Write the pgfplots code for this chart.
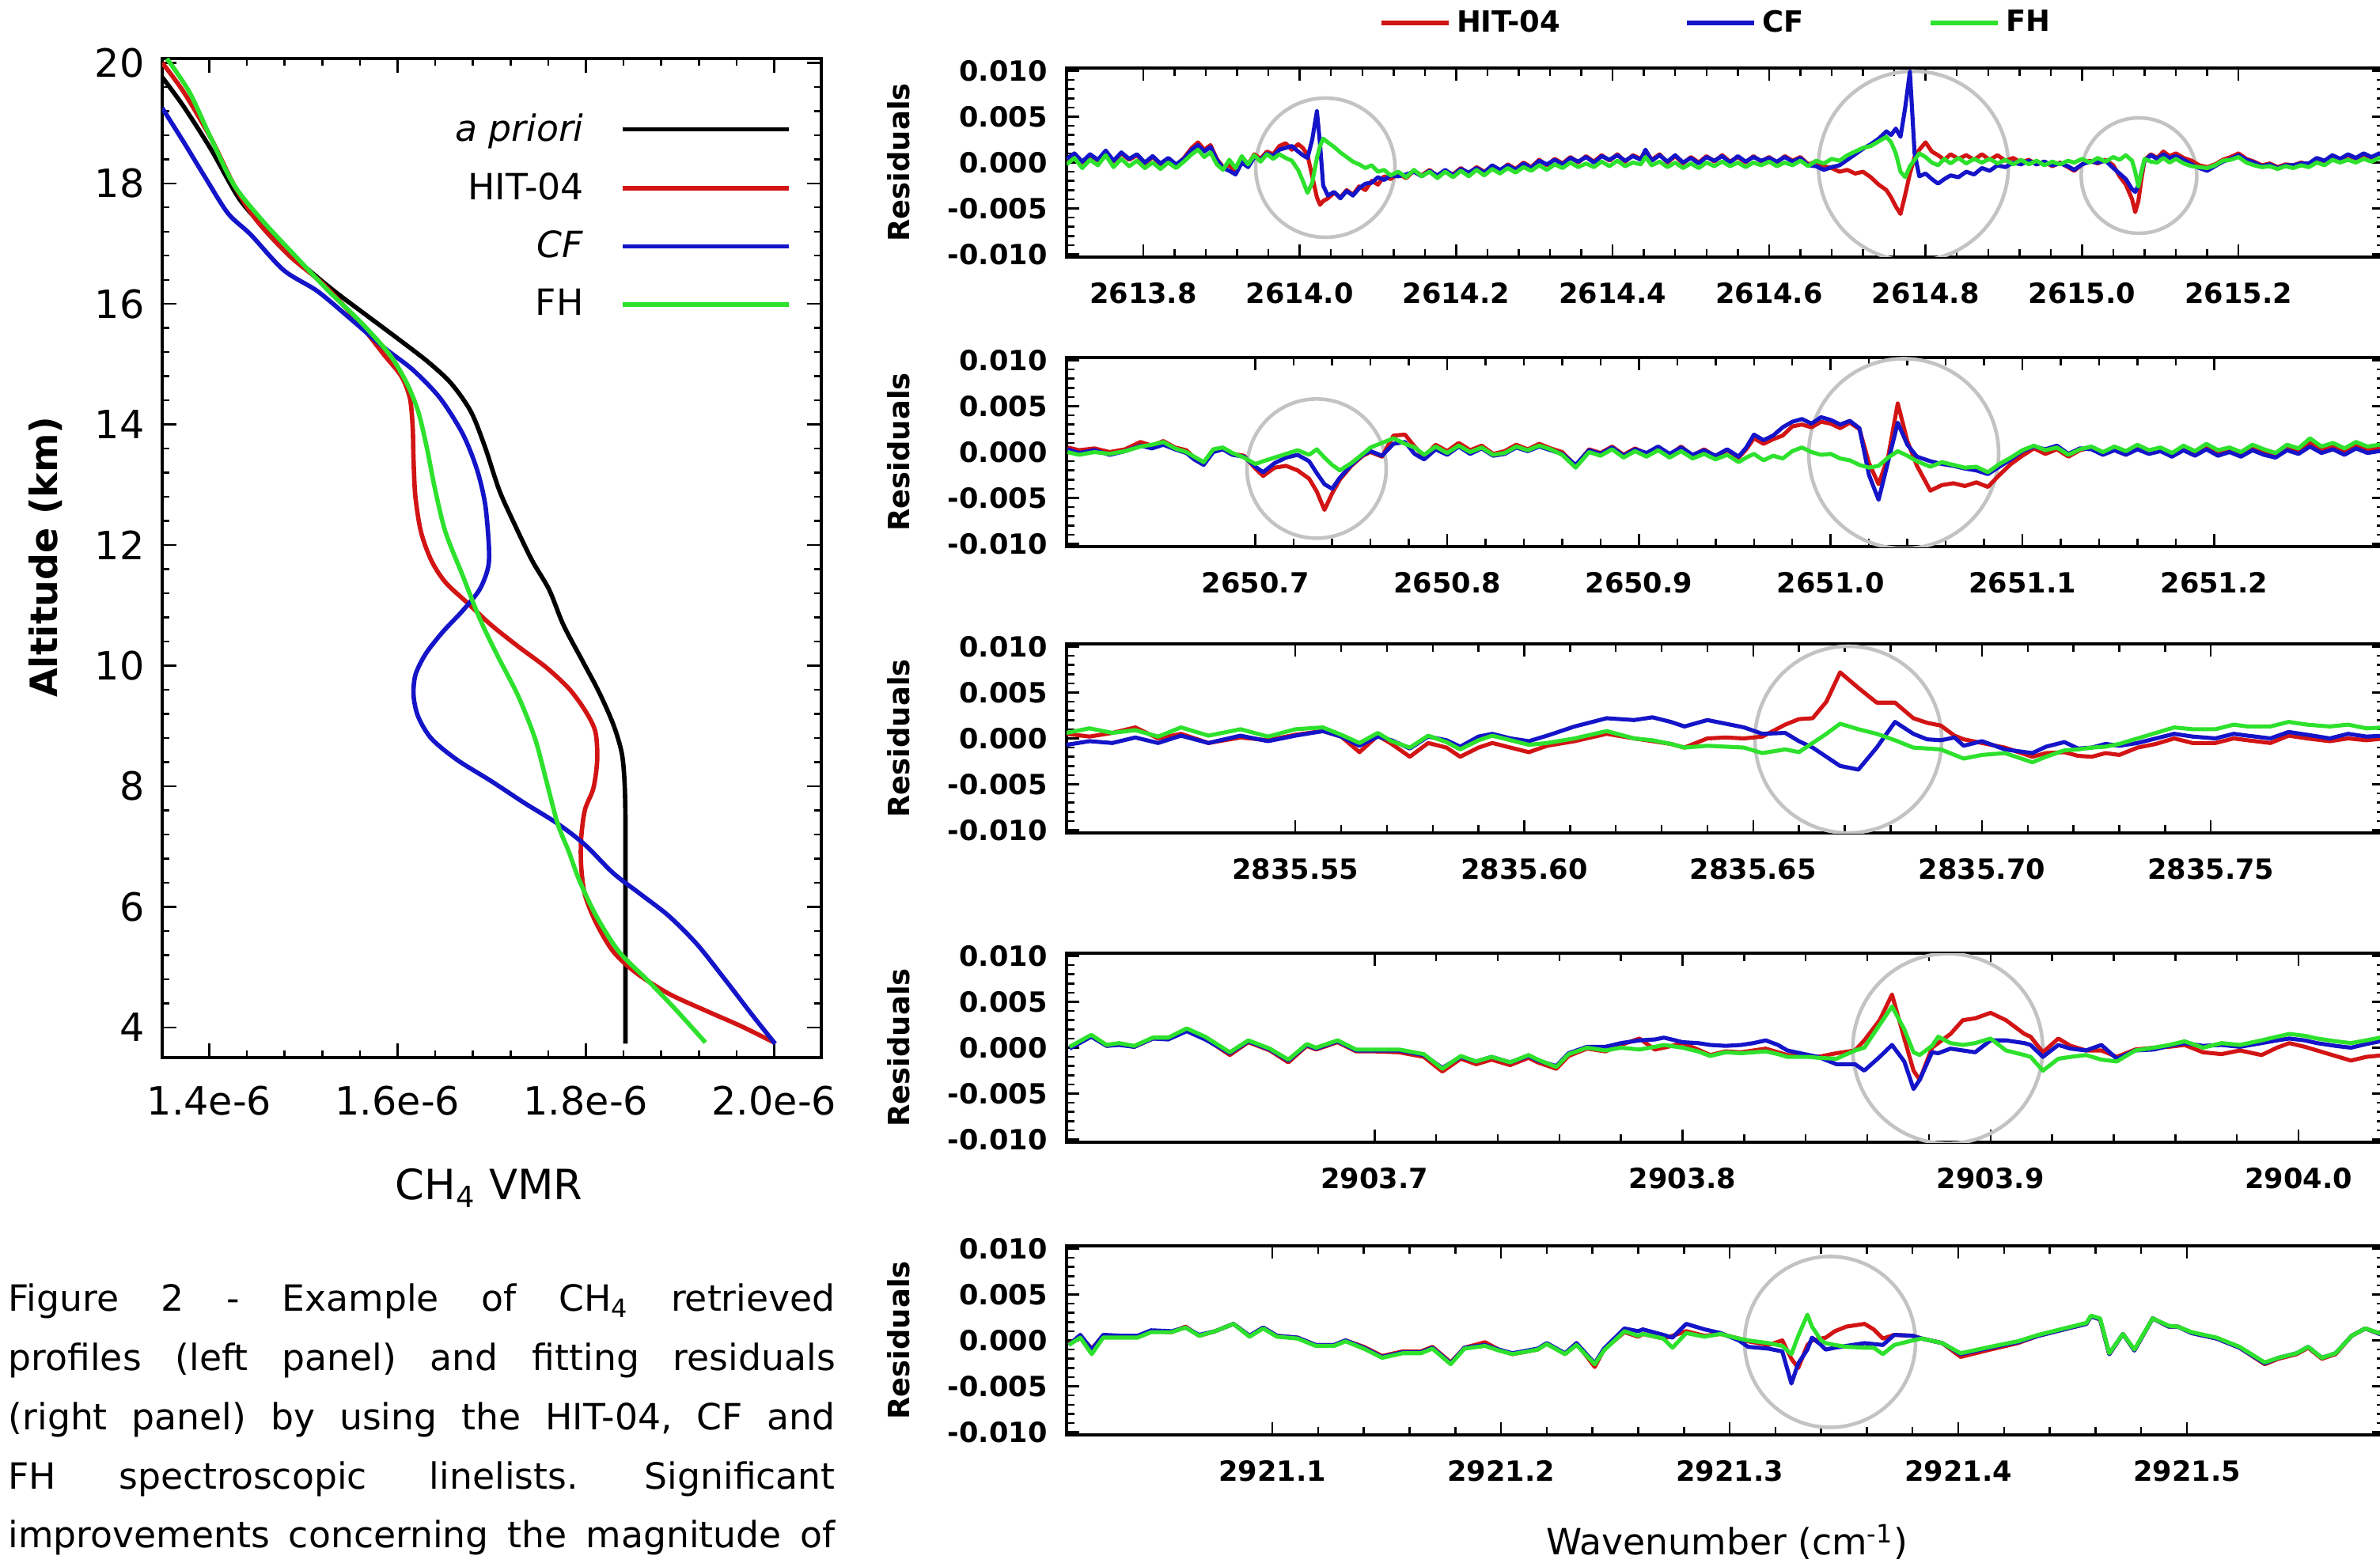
\documentclass[border=0pt]{standalone}
\usepackage{fontspec}
\setmainfont{DejaVu Sans}
\usepackage{pgfplots}
\usepackage{pgfplotstable}
\pgfplotsset{compat=1.18}
\definecolor{cR}{RGB}{210,20,20}
\definecolor{cB}{RGB}{20,20,200}
\definecolor{cG}{RGB}{45,225,45}
\definecolor{cC}{RGB}{195,195,195}
\tikzset{circ/.style={cC, line width=1.3pt}, capline/.style={anchor=base west, inner sep=0pt, font=\fontsize{13}{15}\selectfont}}

\pgfplotstableread{
x h c f
0.702 0.3 0.4 -0.2
0.712 0.9 1.0 0.5
0.722 0.0 0.1 -0.6
0.732 0.8 0.9 0.3
0.742 0.2 0.3 -0.3
0.752 1.2 1.3 0.8
0.762 0.1 0.2 -0.5
0.772 1.0 1.1 0.4
0.782 0.3 0.4 -0.4
0.792 0.8 0.9 0.2
0.802 -0.1 0.0 -0.6
0.812 0.6 0.7 0.0
0.822 -0.2 -0.1 -0.7
0.832 0.4 0.5 0.0
0.842 -0.3 -0.2 -0.6
0.852 0.5 0.4 0.1
0.862 1.6 1.4 0.9
0.870 2.2 1.9 1.4
0.878 1.4 1.2 0.6
0.886 1.9 1.7 1.1
0.894 0.4 0.3 -0.2
0.902 -0.5 -0.6 -0.8
0.910 -0.3 -0.9 0.3
0.918 -1.0 -1.3 -0.6
0.926 0.2 0.0 0.7
0.934 -0.2 -0.5 -0.2
0.942 0.9 0.6 0.8
0.950 0.4 0.3 0.1
0.958 1.2 1.0 0.9
0.966 0.9 0.7 0.4
0.974 1.8 1.4 0.9
0.982 2.1 1.6 0.5
0.990 1.4 1.8 0.2
0.998 2.0 1.2 -0.8
1.004 1.6 0.8 -2.0
1.010 0.8 0.5 -3.3
1.016 -1.5 2.5 -2.2
1.022 -3.8 5.6 0.5
1.026 -4.6 2.0 1.8
1.030 -4.2 -2.5 2.6
1.036 -3.9 -3.6 2.2
1.044 -3.3 -3.2 1.7
1.052 -3.8 -3.9 1.1
1.060 -3.0 -3.1 0.6
1.068 -3.5 -3.6 0.1
1.076 -2.6 -2.8 -0.2
1.084 -3.0 -2.3 -0.6
1.092 -2.0 -2.2 -0.3
1.100 -2.4 -1.6 -1.0
1.108 -1.5 -1.9 -0.8
1.116 -1.8 -1.4 -1.4
1.126 -1.2 -1.5 -1.0
1.136 -1.7 -1.3 -1.6
1.146 -0.9 -1.0 -0.8
1.156 -1.4 -1.5 -1.5
1.166 -0.8 -0.9 -1.0
1.176 -1.5 -1.4 -1.7
1.186 -0.9 -0.8 -1.0
1.196 -1.3 -1.4 -1.6
1.206 -0.6 -0.7 -0.9
1.216 -1.2 -1.1 -1.5
1.226 -0.5 -0.6 -0.8
1.236 -1.0 -1.1 -1.4
1.246 -0.4 -0.3 -0.7
1.256 -0.9 -0.8 -1.2
1.266 -0.2 -0.3 -0.6
1.276 -0.7 -0.8 -1.1
1.286 0.0 -0.1 -0.5
1.296 -0.5 -0.6 -0.9
1.306 0.3 0.2 -0.3
1.316 -0.3 -0.2 -0.8
1.326 0.4 0.3 -0.2
1.336 -0.1 -0.2 -0.6
1.346 0.6 0.5 0.0
1.356 0.0 0.1 -0.5
1.366 0.7 0.6 -0.1
1.376 0.1 0.0 -0.5
1.386 0.8 0.7 0.1
1.396 0.2 0.3 -0.4
1.406 0.9 0.8 0.2
1.416 0.1 0.2 -0.4
1.426 0.8 0.7 0.0
1.436 0.4 0.3 -0.2
1.442 1.3 1.4 0.6
1.450 0.3 0.2 -0.3
1.460 0.9 0.8 0.1
1.470 0.0 0.1 -0.5
1.480 0.7 0.8 0.0
1.490 -0.1 0.0 -0.6
1.500 0.6 0.5 -0.1
1.510 0.0 -0.1 -0.6
1.520 0.7 0.6 0.0
1.530 0.1 0.2 -0.4
1.540 0.8 0.7 0.1
1.550 0.1 0.0 -0.4
1.560 0.6 0.7 0.0
1.570 0.0 0.1 -0.5
1.580 0.7 0.6 0.0
1.590 0.1 0.2 -0.3
1.600 0.6 0.5 0.1
1.610 0.0 0.1 -0.4
1.620 0.7 0.6 0.0
1.630 0.2 0.1 -0.3
1.640 0.6 0.5 0.2
1.650 -0.2 -0.3 -0.4
1.660 0.1 -0.4 0.2
1.670 -0.4 -0.8 -0.1
1.680 -0.6 -0.5 0.4
1.690 -1.0 -0.3 0.2
1.700 -0.8 0.3 0.8
1.710 -1.2 0.9 1.2
1.720 -1.0 1.5 1.6
1.730 -1.6 2.0 1.8
1.740 -2.4 2.6 2.3
1.750 -3.0 3.4 2.8
1.756 -3.8 3.0 2.2
1.762 -4.8 3.7 1.0
1.768 -5.6 2.8 -1.0
1.774 -3.5 6.0 -1.6
1.780 -1.2 9.9 -0.4
1.786 0.6 1.0 0.3
1.792 1.4 -1.5 1.0
1.800 2.2 -1.2 0.6
1.808 1.2 -1.8 0.0
1.816 0.8 -2.3 -0.3
1.824 0.3 -1.8 0.4
1.832 0.9 -1.4 -0.1
1.842 0.4 -1.6 0.5
1.852 0.8 -1.0 -0.1
1.862 0.3 -1.3 0.4
1.872 0.9 -0.6 0.0
1.882 0.3 -0.9 0.4
1.892 0.8 -0.3 -0.1
1.902 0.2 -0.5 0.3
1.912 0.5 0.0 -0.2
1.922 0.0 -0.2 0.3
1.932 0.3 0.2 -0.2
1.942 -0.2 -0.2 0.2
1.952 0.1 0.1 -0.3
1.962 -0.4 -0.3 0.1
1.972 0.0 -0.1 -0.2
1.982 -0.5 -0.4 0.2
1.990 -0.9 -0.8 0.0
2.000 -0.2 -0.2 0.4
2.010 0.2 0.1 0.0
2.020 -0.1 0.0 0.5
2.030 0.3 0.2 0.1
2.040 -0.3 -0.6 0.6
2.048 -1.5 -1.2 0.3
2.056 -2.4 -1.8 0.8
2.064 -4.0 -2.9 0.2
2.068 -5.4 -3.2 -1.0
2.072 -4.2 -2.5 -2.6
2.076 -1.8 -1.0 -1.0
2.080 0.3 0.2 0.4
2.088 0.9 0.8 0.1
2.096 0.5 0.4 0.0
2.104 1.2 0.9 0.5
2.112 0.7 0.5 0.0
2.120 1.0 0.7 0.4
2.130 0.5 0.3 -0.1
2.140 0.2 -0.2 -0.4
2.150 -0.3 -0.6 -0.5
2.160 -0.5 -0.9 -0.6
2.170 -0.2 -0.4 -0.3
2.180 0.3 0.1 0.2
2.190 0.6 0.4 0.3
2.200 1.0 0.8 0.6
2.210 0.4 0.3 0.0
2.220 0.1 0.0 -0.3
2.230 -0.3 -0.4 -0.5
2.240 -0.1 -0.2 -0.4
2.250 -0.5 -0.6 -0.7
2.260 -0.2 -0.3 -0.4
2.270 -0.3 -0.3 -0.6
2.280 0.0 -0.1 -0.3
2.290 -0.2 -0.1 -0.5
2.300 0.4 0.5 0.0
2.310 0.1 0.2 -0.3
2.320 0.7 0.8 0.3
2.330 0.3 0.4 0.0
2.340 0.8 0.9 0.3
2.350 0.4 0.5 0.0
2.360 0.9 1.0 0.4
2.370 0.5 0.6 0.1
2.380 1.0 1.0 0.5
2.387 0.6 0.7 0.2
}\tA

\pgfplotstableread{
x h c f
0.602 0.5 0.3 0.0
0.608 0.2 -0.1 -0.3
0.616 0.4 0.2 0.0
0.624 0.0 -0.3 -0.2
0.632 0.3 0.1 0.1
0.640 1.1 0.7 0.6
0.646 0.7 0.4 0.8
0.652 1.2 0.8 1.1
0.658 0.5 0.3 0.4
0.664 0.2 -0.1 0.0
0.668 -0.6 -0.8 -0.5
0.673 -1.3 -1.4 -1.1
0.678 0.1 0.0 0.3
0.683 0.4 0.3 0.5
0.688 -0.2 -0.3 -0.1
0.694 -0.4 -0.5 -0.6
0.700 -1.8 -1.6 -1.3
0.704 -2.6 -2.2 -1.0
0.710 -1.7 -1.2 -0.6
0.716 -1.5 -0.6 -0.2
0.722 -2.0 -0.3 0.2
0.728 -2.9 -1.0 -0.3
0.732 -4.3 -2.3 0.3
0.736 -6.3 -3.5 -0.6
0.740 -4.5 -4.0 -1.4
0.744 -3.0 -2.8 -2.0
0.750 -1.5 -1.4 -1.2
0.756 -0.4 -0.3 -0.2
0.760 0.0 0.1 0.5
0.766 -0.5 -0.4 1.0
0.772 1.8 0.9 1.5
0.778 1.9 1.1 0.9
0.783 0.6 -0.2 0.5
0.788 -0.5 -0.8 -0.3
0.794 0.8 0.3 0.6
0.800 0.1 -0.3 -0.1
0.806 1.0 0.6 0.7
0.812 0.2 -0.2 0.0
0.818 0.7 0.4 0.5
0.824 -0.2 -0.4 -0.3
0.830 0.1 -0.2 -0.1
0.836 0.8 0.5 0.6
0.842 0.3 0.1 0.2
0.848 0.9 0.6 0.7
0.854 0.4 0.2 0.3
0.860 0.0 -0.2 -0.3
0.867 -1.5 -1.4 -1.7
0.874 0.3 0.2 0.0
0.880 -0.1 -0.2 -0.4
0.886 0.6 0.5 0.3
0.892 -0.3 -0.4 -0.6
0.898 0.4 0.3 0.1
0.904 -0.2 -0.1 -0.5
0.910 0.5 0.6 0.2
0.916 -0.3 -0.2 -0.6
0.922 0.6 0.5 0.1
0.928 -0.4 -0.3 -0.7
0.934 0.3 0.2 -0.2
0.940 -0.5 -0.4 -0.8
0.946 0.2 0.3 -0.3
0.952 -0.6 -0.5 -1.1
0.956 0.3 0.5 -0.6
0.960 1.5 1.9 -0.2
0.965 0.9 1.3 -0.9
0.970 1.4 1.8 -0.4
0.975 1.8 2.7 -0.7
0.980 2.8 3.3 0.1
0.985 3.0 3.6 0.5
0.990 2.7 3.1 0.0
0.995 3.3 3.8 -0.3
1.000 3.1 3.5 -0.2
1.005 2.6 3.0 -0.7
1.010 3.2 3.4 -0.9
1.015 2.5 2.6 -1.4
1.020 -1.2 -2.5 -1.7
1.025 -3.5 -5.2 -1.5
1.030 -0.5 -1.0 -0.6
1.035 5.3 3.2 0.1
1.040 1.2 0.8 -0.4
1.045 -1.5 -0.5 -1.0
1.052 -4.2 -1.0 -1.6
1.058 -3.6 -1.3 -1.1
1.064 -3.4 -1.5 -1.4
1.070 -3.7 -1.8 -1.7
1.076 -3.3 -2.0 -1.6
1.082 -3.8 -2.4 -2.2
1.088 -2.5 -1.6 -1.3
1.094 -1.3 -0.8 -0.6
1.100 -0.4 0.1 0.2
1.106 0.4 0.6 0.7
1.112 -0.2 0.3 0.2
1.118 0.3 0.7 0.5
1.124 -0.5 -0.2 -0.3
1.130 0.2 0.4 0.3
1.136 0.5 0.3 0.6
1.142 -0.2 -0.3 0.0
1.148 0.4 0.2 0.6
1.154 -0.1 -0.3 0.1
1.160 0.6 0.3 0.8
1.166 0.0 -0.2 0.2
1.172 0.4 0.1 0.5
1.178 -0.3 -0.5 -0.1
1.184 0.5 0.2 0.7
1.190 -0.2 -0.4 0.1
1.196 0.6 0.3 0.9
1.202 -0.1 -0.4 0.2
1.208 0.3 0.0 0.5
1.214 -0.3 -0.5 0.0
1.220 0.5 0.2 0.8
1.226 0.0 -0.3 0.3
1.232 -0.4 -0.6 -0.1
1.238 0.5 0.2 0.8
1.244 0.1 -0.2 0.4
1.250 1.0 0.6 1.5
1.256 0.2 -0.1 0.6
1.262 0.6 0.3 1.0
1.268 0.0 -0.3 0.4
1.274 0.7 0.4 1.1
1.280 0.2 -0.1 0.6
1.289 0.5 0.2 0.9
}\tB

\pgfplotstableread{
x h c f
0.500 0.5 -0.7 0.6
0.505 0.2 -0.3 1.1
0.510 0.6 -0.5 0.6
0.515 1.2 0.1 0.9
0.520 0.0 -0.5 0.2
0.525 0.5 0.3 1.2
0.531 -0.5 -0.5 0.3
0.538 0.1 0.3 1.0
0.544 -0.2 -0.3 0.2
0.550 0.4 0.3 1.0
0.556 0.8 0.8 1.2
0.560 0.2 0.2 0.4
0.564 -1.5 -0.8 -0.5
0.568 0.3 0.2 0.6
0.571 -0.6 -0.2 -0.3
0.575 -2.0 -1.1 -1.0
0.579 -0.5 0.2 0.3
0.583 -1.0 -0.2 -0.4
0.586 -2.0 -0.9 -1.2
0.590 -1.0 0.2 -0.2
0.593 -0.5 0.5 0.3
0.597 -1.0 0.0 -0.2
0.601 -1.5 -0.3 -0.7
0.605 -0.8 0.3 -0.5
0.611 -0.3 1.3 0.0
0.618 0.5 2.2 0.8
0.624 0.0 2.0 0.0
0.628 -0.3 2.3 -0.2
0.632 -0.6 1.8 -0.6
0.635 -1.0 1.3 -1.0
0.640 0.0 2.0 -0.8
0.644 0.1 1.6 -0.9
0.648 0.0 1.2 -1.0
0.652 0.2 0.5 -1.6
0.657 1.5 0.6 -1.2
0.660 2.1 -0.3 -1.5
0.663 2.2 -1.0 -0.5
0.666 4.0 -2.0 0.5
0.669 7.2 -3.0 1.6
0.673 5.5 -3.4 1.0
0.677 3.9 -1.0 0.5
0.681 3.9 1.8 -0.2
0.685 2.2 0.5 -1.0
0.688 1.7 -0.1 -1.1
0.691 1.4 -0.2 -1.2
0.694 0.3 0.1 -1.8
0.696 -0.1 -0.8 -2.2
0.700 -0.5 -0.3 -1.8
0.705 -1.0 -1.2 -1.6
0.711 -2.0 -1.6 -2.6
0.714 -1.6 -0.9 -2.0
0.718 -1.5 -0.4 -1.3
0.721 -1.9 -1.1 -1.2
0.724 -2.0 -1.0 -1.0
0.727 -1.6 -0.6 -0.9
0.730 -1.8 -0.8 -0.6
0.734 -1.0 -0.5 0.0
0.738 -0.6 0.0 0.6
0.742 0.0 0.5 1.2
0.746 -0.5 0.2 1.0
0.751 -0.5 0.0 1.0
0.755 0.0 0.5 1.5
0.758 -0.2 0.3 1.3
0.763 -0.5 0.0 1.3
0.767 0.3 0.7 1.8
0.771 0.0 0.4 1.5
0.776 -0.3 0.0 1.3
0.780 0.0 0.5 1.5
0.784 -0.2 0.2 1.1
0.788 0.0 0.3 1.2
}\tC

\pgfplotstableread{
x h c f
0.601 0.0 -0.1 0.1
0.608 1.3 1.2 1.4
0.613 0.2 0.2 0.3
0.617 0.4 0.3 0.5
0.622 0.1 0.1 0.2
0.628 1.0 1.0 1.1
0.633 1.0 0.9 1.1
0.639 1.9 1.8 2.1
0.645 1.0 0.9 1.2
0.653 -0.8 -0.6 -0.5
0.659 0.6 0.7 0.8
0.666 -0.3 -0.2 -0.1
0.672 -1.6 -1.4 -1.3
0.678 0.2 0.3 0.4
0.681 -0.2 -0.1 0.0
0.688 0.6 0.7 0.8
0.694 -0.4 -0.3 -0.2
0.700 -0.4 -0.3 -0.2
0.708 -0.5 -0.3 -0.2
0.716 -1.0 -0.8 -0.7
0.722 -2.6 -2.2 -2.3
0.728 -1.2 -1.0 -0.9
0.733 -1.8 -1.5 -1.5
0.738 -1.3 -1.0 -1.0
0.744 -1.9 -1.6 -1.6
0.750 -1.1 -0.9 -0.8
0.753 -1.6 -1.4 -1.3
0.759 -2.3 -2.0 -2.1
0.763 -0.9 -0.6 -0.7
0.769 -0.1 0.1 0.0
0.775 -0.4 0.1 -0.3
0.780 0.3 0.5 0.0
0.786 1.0 0.8 -0.2
0.791 -0.2 0.9 0.1
0.794 0.0 1.1 0.3
0.800 0.5 0.6 0.0
0.805 -0.2 0.5 -0.4
0.809 -0.8 0.3 -0.9
0.814 -0.4 0.2 -0.5
0.819 -0.5 0.3 -0.6
0.823 -0.3 0.5 -0.5
0.827 -0.1 0.8 -0.4
0.831 -0.5 0.3 -0.7
0.834 -0.8 -0.3 -1.0
0.841 -0.9 -0.8 -1.0
0.844 -1.0 -1.0 -1.1
0.850 -0.6 -1.8 -1.2
0.856 -0.3 -1.8 -0.3
0.859 0.8 -2.5 0.0
0.864 3.0 -1.0 2.5
0.868 5.8 0.3 4.5
0.872 1.0 -1.5 2.0
0.875 -2.5 -4.5 -0.5
0.877 -3.5 -3.5 -0.8
0.881 0.0 -0.5 0.2
0.883 0.5 -0.6 1.2
0.887 1.5 -0.1 0.5
0.891 3.0 -0.3 0.3
0.895 3.2 -0.5 0.5
0.900 3.8 0.8 1.0
0.905 3.0 0.8 -0.3
0.911 1.5 0.5 -0.8
0.913 1.2 0.3 -1.0
0.917 -0.5 -1.0 -2.5
0.922 1.0 0.3 -1.2
0.926 0.2 -0.1 -1.0
0.931 -0.3 -0.3 -0.8
0.936 -0.3 0.3 -1.3
0.941 -1.0 -1.2 -1.5
0.947 -0.2 -0.3 -0.3
0.953 0.0 -0.2 0.0
0.958 0.1 0.2 0.3
0.963 0.3 0.5 0.7
0.969 -0.5 0.2 0.0
0.975 -0.7 0.3 0.5
0.981 -0.3 0.1 0.3
0.988 -0.8 0.5 0.8
0.993 0.0 0.8 1.2
0.997 0.5 1.0 1.5
1.002 0.1 0.8 1.3
1.006 -0.3 0.5 1.0
1.012 -0.9 0.2 0.7
1.017 -1.4 0.0 0.5
1.022 -1.0 0.4 0.8
1.028 -0.8 0.8 1.2
}\tD

\pgfplotstableread{
x h c f
0.011 -0.4 -0.5 -0.5
0.016 0.5 0.6 0.3
0.021 -0.9 -1.0 -1.5
0.026 0.5 0.6 0.3
0.035 0.5 0.5 0.3
0.041 0.4 0.5 0.3
0.047 1.0 1.1 0.9
0.056 0.9 1.0 0.9
0.062 1.5 1.4 1.4
0.068 0.5 0.6 0.5
0.075 1.0 1.0 1.0
0.083 1.8 1.8 1.8
0.090 0.5 0.5 0.4
0.096 1.4 1.4 1.3
0.102 0.5 0.5 0.4
0.111 0.3 0.3 0.2
0.119 -0.5 -0.5 -0.6
0.127 -0.5 -0.5 -0.6
0.132 0.0 0.0 -0.1
0.140 -0.7 -0.8 -0.9
0.148 -1.7 -1.8 -1.9
0.157 -1.2 -1.3 -1.4
0.165 -1.2 -1.3 -1.4
0.170 -0.7 -0.8 -0.9
0.178 -2.4 -2.5 -2.6
0.184 -0.8 -0.8 -0.9
0.193 -0.2 -0.5 -0.6
0.199 -1.0 -1.0 -1.1
0.205 -1.5 -1.4 -1.5
0.216 -1.0 -0.9 -1.0
0.220 -0.3 -0.3 -0.4
0.228 -1.5 -1.4 -1.5
0.233 -0.3 -0.3 -0.5
0.241 -2.9 -2.5 -2.6
0.245 -1.0 -0.9 -1.1
0.254 0.9 1.3 1.0
0.260 0.4 1.0 0.5
0.262 0.7 1.2 0.7
0.271 0.2 0.6 0.2
0.275 0.5 0.3 -0.8
0.281 1.0 1.8 0.8
0.289 0.5 1.2 0.4
0.296 0.7 0.8 0.7
0.304 0.2 0.0 0.2
0.308 -0.1 -0.7 0.0
0.317 -0.5 -0.9 -0.3
0.323 0.0 -1.2 -0.6
0.327 -2.0 -4.7 -1.5
0.330 -3.0 -2.5 0.5
0.334 -0.5 -1.0 2.8
0.336 0.0 0.3 1.5
0.340 0.2 -0.5 0.0
0.342 0.3 -1.0 -0.3
0.346 1.0 -0.8 -0.5
0.351 1.5 -0.6 -0.7
0.359 1.8 -0.3 -0.8
0.363 1.2 -0.4 -0.8
0.367 0.2 -0.5 -1.5
0.372 0.6 0.6 -0.5
0.380 0.5 0.5 0.0
0.384 0.2 0.2 0.2
0.393 -0.3 -0.3 -0.3
0.401 -1.8 -1.5 -1.4
0.414 -1.0 -0.8 -0.7
0.426 -0.3 -0.2 -0.1
0.435 0.5 0.5 0.6
0.443 1.0 1.0 1.1
0.456 1.8 1.8 1.9
0.458 2.6 2.6 2.7
0.462 2.3 2.3 2.4
0.466 -1.5 -1.5 -1.4
0.472 0.7 0.7 0.7
0.477 -1.1 -1.1 -1.0
0.485 2.4 2.4 2.4
0.492 1.5 1.5 1.6
0.496 1.5 1.5 1.5
0.502 0.8 0.8 0.9
0.513 0.2 0.2 0.3
0.523 -0.8 -0.8 -0.7
0.534 -2.6 -2.5 -2.4
0.540 -2.0 -1.9 -1.9
0.548 -1.5 -1.4 -1.4
0.553 -0.8 -0.7 -0.7
0.559 -2.0 -1.9 -1.9
0.565 -1.5 -1.4 -1.4
0.572 0.5 0.5 0.5
0.578 1.3 1.3 1.3
0.5865 0.5 0.5 0.6
}\tE

\pgfplotsset{
  resid/.style={
    scale only axis, width=166.6mm, height=23.9mm, anchor=north west,
    ymin=-10.3, ymax=10.3,
    ytick={-10,-5,0,5,10},
    yticklabels={-0.010,-0.005,0.000,0.005,0.010},
    minor x tick num=4, minor y tick num=4,
    tick align=inside,
    major tick length=1.6mm, minor tick length=1.0mm,
    tick style={black, line width=0.7pt},
    axis line style={line width=1.2pt},
    ticklabel style={font=\fontsize{10}{12}\selectfont\bfseries},
    xticklabel style={yshift=-2mm},
    yticklabel style={xshift=-1.2mm},
    ylabel={Residuals},
    every axis y label/.style={at={(axis description cs:-0.1273,0.5)}, rotate=90, anchor=center, font=\fontsize{10.5}{13}\selectfont\bfseries},
    every axis plot/.append style={line width=1.45pt, line join=round},
  },
}

\begin{document}
\begin{tikzpicture}
\path[use as bounding box] (0,0) rectangle (300.8mm,-198.1mm);

\begin{axis}[
  at={(20.5mm,-7.4mm)}, anchor=north west, scale only axis,
  width=83.3mm, height=126.3mm,
  xmin=1.35, xmax=2.05, ymin=3.5, ymax=20.07,
  xtick={1.4,1.6,1.8,2.0}, xticklabels={1.4e-6,1.6e-6,1.8e-6,2.0e-6},
  ytick={4,6,8,10,12,14,16,18,20}, yticklabels={4,6,8,10,12,14,16,18,20},
  minor x tick num=4, minor y tick num=4,
  tick align=inside, major tick length=1.8mm, minor tick length=0.9mm,
  tick style={black, line width=0.7pt}, axis line style={line width=1pt},
  ticklabel style={font=\fontsize{14}{16}\selectfont},
  xticklabel style={yshift=-2.4mm}, yticklabel style={xshift=-1mm},
  xlabel={CH\textsubscript{4} VMR}, ylabel={Altitude (km)},
  every axis x label/.style={at={(axis description cs:0.4958,-0.1306)}, anchor=center, font=\fontsize{15}{18}\selectfont},
  every axis y label/.style={at={(axis description cs:-0.1765,0.501)}, rotate=90, anchor=center, font=\fontsize{13.5}{16}\selectfont\bfseries},
  legend plot pos=right, legend cell align=right,
  legend style={at={(axis description cs:0.9556,0.951)}, anchor=north east, draw=none, fill=none, inner sep=0pt, row sep=2.05mm, font=\fontsize{13}{15}\selectfont, /tikz/every odd column/.append style={column sep=4mm}},
  legend image code/.code={\draw[#1, line width=1.6pt] (0mm,0mm) -- (21mm,0mm);},
  every axis plot/.append style={line width=1.6pt},
]
\addplot[black, smooth] coordinates {(1.350,19.76)(1.373,19.27)(1.402,18.56)(1.432,17.74)(1.462,17.21)(1.497,16.68)(1.533,16.21)(1.568,15.80)(1.604,15.38)(1.633,15.03)(1.657,14.68)(1.678,14.21)(1.693,13.62)(1.708,12.91)(1.725,12.32)(1.743,11.74)(1.761,11.26)(1.776,10.68)(1.796,10.09)(1.814,9.56)(1.829,9.03)(1.838,8.56)(1.841,8.09)(1.842,7.50)(1.842,6.91)(1.842,5.50)(1.842,4.50)(1.842,3.73)};
\addplot[cR, smooth] coordinates {(1.350,20.0)(1.373,19.51)(1.402,18.74)(1.426,17.98)(1.450,17.39)(1.485,16.80)(1.521,16.33)(1.556,15.74)(1.586,15.15)(1.604,14.80)(1.613,14.44)(1.616,13.97)(1.617,13.38)(1.619,12.79)(1.625,12.21)(1.636,11.74)(1.651,11.38)(1.675,11.03)(1.699,10.68)(1.728,10.32)(1.758,9.97)(1.782,9.62)(1.799,9.26)(1.810,8.91)(1.812,8.44)(1.808,7.97)(1.799,7.61)(1.795,7.14)(1.795,6.67)(1.799,6.20)(1.811,5.73)(1.829,5.26)(1.853,4.91)(1.888,4.56)(1.930,4.26)(1.965,4.02)(2.000,3.75)};
\addplot[cB, smooth] coordinates {(1.350,19.25)(1.373,18.68)(1.396,18.09)(1.420,17.50)(1.444,17.15)(1.479,16.56)(1.515,16.21)(1.551,15.74)(1.586,15.27)(1.616,14.91)(1.645,14.44)(1.669,13.85)(1.684,13.27)(1.693,12.68)(1.697,11.97)(1.696,11.62)(1.687,11.26)(1.669,10.91)(1.648,10.56)(1.630,10.20)(1.619,9.85)(1.617,9.50)(1.622,9.15)(1.636,8.79)(1.663,8.44)(1.699,8.09)(1.734,7.73)(1.770,7.38)(1.799,7.03)(1.829,6.56)(1.859,6.20)(1.888,5.85)(1.918,5.38)(1.948,4.79)(1.977,4.20)(2.001,3.73)};
\addplot[cG, smooth] coordinates {(1.355,20.07)(1.379,19.51)(1.402,18.74)(1.426,17.98)(1.456,17.39)(1.491,16.80)(1.527,16.21)(1.562,15.68)(1.592,15.15)(1.610,14.68)(1.622,14.21)(1.631,13.62)(1.640,12.91)(1.651,12.21)(1.669,11.50)(1.687,10.79)(1.705,10.20)(1.728,9.50)(1.746,8.79)(1.758,8.09)(1.770,7.38)(1.782,6.91)(1.793,6.44)(1.811,5.85)(1.835,5.26)(1.865,4.79)(1.894,4.32)(1.927,3.75)};
\legend{\textit{a priori},HIT-04,\textit{CF},FH}
\end{axis}

\begin{axis}[resid, at={(134.8mm,-8.6mm)},
  xmin=0.702, xmax=2.387,
  xtick={0.8,1.0,1.2,1.4,1.6,1.8,2.0,2.2},
  xticklabels={2613.8,2614.0,2614.2,2614.4,2614.6,2614.8,2615.0,2615.2},
  legend columns=3,
  legend style={at={(axis description cs:0.2365,1.2385)}, anchor=west, draw=none, fill=none, inner sep=0pt, font=\fontsize{10.5}{12}\selectfont\bfseries, /tikz/every even column/.append style={column sep=15mm}},
  legend image code/.code={\draw[#1, line width=1.8pt] (0mm,0mm) -- (8.5mm,0mm);},
]
\draw[circ] (axis cs:1.0328,-0.56) circle[radius=8.8mm];
\draw[circ] (axis cs:1.7845,-0.39) circle[radius=12mm];
\draw[circ] (axis cs:2.0728,-1.42) circle[radius=7.3mm];
\addplot[cR] table[x=x,y=h]{\tA};
\addplot[cB] table[x=x,y=c]{\tA};
\addplot[cG] table[x=x,y=f]{\tA};
\legend{HIT-04,CF,FH}
\end{axis}

\begin{axis}[resid, at={(134.8mm,-45.2mm)},
  xmin=0.6015, xmax=1.289,
  xtick={0.7,0.8,0.9,1.0,1.1,1.2},
  xticklabels={2650.7,2650.8,2650.9,2651.0,2651.1,2651.2},
]
\draw[circ] (axis cs:0.7319,-1.8) circle[radius=8.8mm];
\draw[circ] (axis cs:1.0381,-0.17) circle[radius=12mm];
\addplot[cR] table[x=x,y=h]{\tB};
\addplot[cB] table[x=x,y=c]{\tB};
\addplot[cG] table[x=x,y=f]{\tB};
\end{axis}

\begin{axis}[resid, at={(134.8mm,-81.4mm)},
  xmin=0.50, xmax=0.788,
  xtick={0.55,0.60,0.65,0.70,0.75},
  xticklabels={2835.55,2835.60,2835.65,2835.70,2835.75},
]
\draw[circ] (axis cs:0.6708,-0.13) circle[radius=11.8mm];
\addplot[cR] table[x=x,y=h]{\tC};
\addplot[cB] table[x=x,y=c]{\tC};
\addplot[cG] table[x=x,y=f]{\tC};
\end{axis}

\begin{axis}[resid, at={(134.8mm,-120.5mm)},
  xmin=0.60, xmax=1.028,
  xtick={0.7,0.8,0.9,1.0},
  xticklabels={2903.7,2903.8,2903.9,2904.0},
]
\draw[circ] (axis cs:0.8861,-0.1) circle[radius=12mm];
\addplot[cR] table[x=x,y=h]{\tD};
\addplot[cB] table[x=x,y=c]{\tD};
\addplot[cG] table[x=x,y=f]{\tD};
\end{axis}

\begin{axis}[resid, at={(134.8mm,-157.5mm)},
  xmin=0.01, xmax=0.5865,
  xtick={0.1,0.2,0.3,0.4,0.5},
  xticklabels={2921.1,2921.2,2921.3,2921.4,2921.5},
  xlabel={Wavenumber (cm\textsuperscript{-1})},
  every axis x label/.style={at={(axis description cs:0.501,-0.565)}, anchor=center, font=\fontsize{13}{15}\selectfont},
]
\draw[circ] (axis cs:0.3439,-0.17) circle[radius=10.8mm];
\addplot[cR] table[x=x,y=h]{\tE};
\addplot[cB] table[x=x,y=c]{\tE};
\addplot[cG] table[x=x,y=f]{\tE};
\end{axis}

\node[capline] at (1mm,-165.7mm) {\hbox to 104.5mm{Figure \hfill 2 \hfill - \hfill Example \hfill of \hfill CH\textsubscript{4} \hfill retrieved}};
\node[capline] at (1mm,-173.2mm) {\hbox to 104.5mm{profiles \hfill (left \hfill panel) \hfill and \hfill fitting \hfill residuals}};
\node[capline] at (1mm,-180.7mm) {\hbox to 104.5mm{(right \hfill panel) \hfill by \hfill using \hfill the \hfill HIT-04, \hfill CF \hfill and}};
\node[capline] at (1mm,-188.2mm) {\hbox to 104.5mm{FH \hfill spectroscopic \hfill linelists. \hfill Significant}};
\node[capline] at (1mm,-195.6mm) {\hbox to 104.5mm{improvements \hfill concerning \hfill the \hfill magnitude \hfill of}};
\end{tikzpicture}
\end{document}
